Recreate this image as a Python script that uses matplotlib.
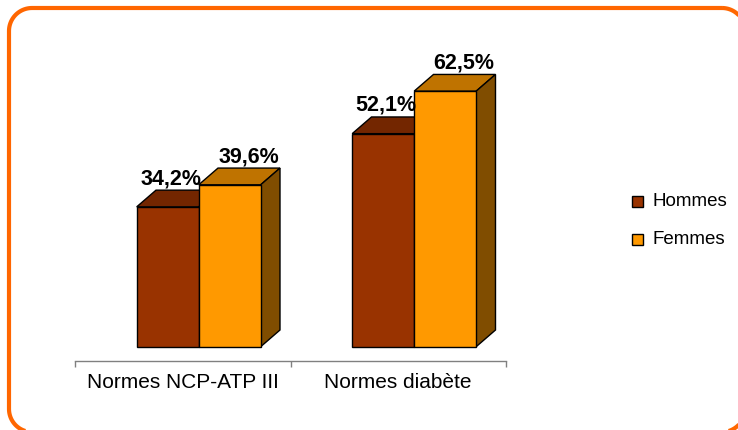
import numpy as np
import matplotlib
matplotlib.use("Agg")
import matplotlib.pyplot as plt
from matplotlib.patches import Polygon, Rectangle
from matplotlib.path import Path
from matplotlib.patches import PathPatch

plt.rcParams['font.family'] = ['Liberation Sans', 'DejaVu Sans']

categories = ["Normes NCP-ATP III", "Normes diabète"]
series = ["Hommes", "Femmes"]
hommes = [34.2, 52.1]
femmes = [39.6, 62.5]
value_labels_h = ["34,2%", "52,1%"]
value_labels_f = ["39,6%", "62,5%"]

front_colors = ["#993300", "#FF9900"]
top_colors = ["#732600", "#BF7300"]
side_colors = ["#4D1A00", "#804D00"]

W, H = 738, 430
fig = plt.figure(figsize=(W / 100, H / 100), dpi=100)
fig.patch.set_facecolor("white")


def rounded_rect(left, top, right, bottom, r, n=24):
    """Closed outline of a rectangle with circular corners (pixel units, y down)."""
    pts = []
    corners = [(right - r, top + r, -90, 0), (right - r, bottom - r, 0, 90),
               (left + r, bottom - r, 90, 180), (left + r, top + r, 180, 270)]
    for cx, cy, a0, a1 in corners:
        a = np.radians(np.linspace(a0, a1, n))
        pts.extend(zip(cx + r * np.cos(a), cy + r * np.sin(a)))
    pts.append(pts[0])
    return Path(pts, closed=True)


# background layer in pixel units for the orange rounded frame
bg = fig.add_axes([0, 0, 1, 1], zorder=-1)
bg.set_xlim(0, W)
bg.set_ylim(H, 0)
bg.axis("off")
bg.add_patch(PathPatch(rounded_rect(9, 8, 745, 432, 23), facecolor="none",
                       edgecolor="#FF6600", linewidth=3.0, clip_on=False))

ax_left, ax_right = 75, 506
ax_bottom, ax_top = 361, 20
ax = fig.add_axes([ax_left / W, (H - ax_bottom) / H,
                   (ax_right - ax_left) / W, (ax_bottom - ax_top) / H])
ax.set_xlim(-0.5, 1.5)
ax.set_ylim(-3.5, 79.9)
ax.set_facecolor("none")

px_x = (ax_right - ax_left) / 2.0            # pixels per category
px_y = (ax_bottom - ax_top) / (79.9 + 3.5)   # pixels per percent
dx = 19.3 / px_x
dy = 16.7 / px_y

bar_w = 62 / px_x
shift = 0.074

for s, vals in enumerate([hommes, femmes]):
    for i, v in enumerate(vals):
        x0 = i + shift + (s - 1) * bar_w
        x1 = x0 + bar_w
        z = 3 + s * 3
        ax.bar(x0, v, width=bar_w, align="edge", color=front_colors[s],
               edgecolor="black", linewidth=1.0, zorder=z + 0.5)
        ax.add_patch(Polygon([(x0, v), (x1, v), (x1 + dx, v + dy), (x0 + dx, v + dy)],
                             closed=True, facecolor=top_colors[s], edgecolor="black",
                             linewidth=1.0, zorder=z))
        ax.add_patch(Polygon([(x1, 0), (x1 + dx, dy), (x1 + dx, v + dy), (x1, v)],
                             closed=True, facecolor=side_colors[s], edgecolor="black",
                             linewidth=1.0, zorder=z))

# value labels above the bars
label_dx = [3 / px_x, 19 / px_x]
for s, (vals, labs) in enumerate([(hommes, value_labels_h), (femmes, value_labels_f)]):
    for i, (v, lab) in enumerate(zip(vals, labs)):
        xc = i + shift + (s - 0.5) * bar_w + label_dx[s]
        ax.text(xc, v + dy + 6 / px_y, lab, ha="center", va="baseline",
                fontsize=15.5, fontweight="bold", color="black", zorder=10)

# category axis
for side in ["top", "right", "left"]:
    ax.spines[side].set_visible(False)
ax.spines["bottom"].set_color("#808080")
ax.spines["bottom"].set_linewidth(1.0)
ax.set_yticks([])
ax.set_xticks([-0.5, 0.5, 1.5])
ax.set_xticklabels([])
ax.tick_params(axis="x", direction="out", length=4.5, width=1.0, color="#808080")
for i, c in enumerate(categories):
    ax.text(i, -3.5 - 22 / px_y, c, ha="center", va="center", fontsize=15,
            color="black")

# legend
leg_x = 632
for s, name in enumerate(series):
    yc = 201.5 + s * 37.5
    fig.patches.append(Rectangle((leg_x / W, (H - yc - 5.5) / H), 11 / W, 11 / H,
                                 transform=fig.transFigure, facecolor=front_colors[s],
                                 edgecolor="black", linewidth=1.0))
    fig.text(653 / W, (H - yc) / H, name, ha="left", va="center", fontsize=13.5,
             color="black")

fig.savefig("out.png", dpi=100)
